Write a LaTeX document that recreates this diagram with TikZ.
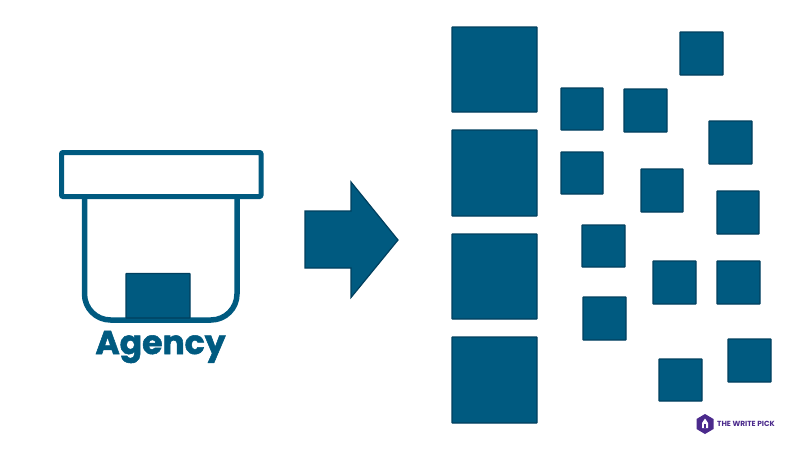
\documentclass[tikz,border=0pt]{standalone}
\usepackage{fontspec}
\setmainfont{Poppins}
\newfontfamily\agencyfont[FakeBold=1.6]{Poppins}
\definecolor{teal}{HTML}{005A80}
\definecolor{edgeblue}{HTML}{003F5E}
\definecolor{logopurple}{HTML}{4B2A8C}
\tikzset{
  block/.style={fill=teal,draw=edgeblue,line width=1.2pt,rounded corners=0.5pt},
  outline/.style={draw=teal,line width=5pt,line join=round},
}
\newcommand{\sq}[4]{\path[block] (#1,#2) rectangle (#3,#4);}
\begin{document}
\begin{tikzpicture}[x=1pt,y=-1pt]
\useasboundingbox (0,0) rectangle (800,450);
% agency body and lid
\draw[outline,line width=5.5pt,rounded corners=26pt] (84.5,196) -- (84.5,320) -- (237,320) -- (237,196);
\draw[outline,rounded corners=1pt] (61.5,152.5) rectangle (261,196.5);
\sq{126}{273.5}{190}{318}
\node[text=teal,font=\agencyfont\fontsize{33}{33}\selectfont\bfseries,inner sep=0pt,anchor=base] (agency) at (160.5,354) {Agency};
% arrow
\path[block,rounded corners=0pt] (305,211) -- (351,211) -- (351,182) -- (398,240) -- (351,297.5) -- (351,268) -- (305,268) -- cycle;
% large squares
\sq{452}{27}{537}{112}
\sq{452}{130}{537}{216}
\sq{452}{234}{537}{319}
\sq{452}{337}{537}{423}
% small squares
\sq{680}{32}{723}{75}
\sq{561}{88}{603}{130}
\sq{624}{89}{667}{132}
\sq{709}{121}{752}{164}
\sq{561}{152}{603}{194}
\sq{641}{169}{683}{212}
\sq{717}{191}{759}{234}
\sq{582}{225}{625}{267}
\sq{653}{261}{696}{304}
\sq{717}{261}{760}{304}
\sq{583}{297}{626}{340}
\sq{728}{339}{771}{382}
\sq{659}{359}{702}{401}
% logo
\fill[logopurple] (705,414) -- (713.5,419) -- (713.5,429) -- (705,434) -- (696.5,429) -- (696.5,419) -- cycle;
\fill[white] (705,418.5) -- (708,423) -- (708,428) -- (702,428) -- (702,423) -- cycle;
\fill[logopurple] (704,424) rectangle (706,428);
\node[text=logopurple,font=\fontsize{7.4}{7.4}\selectfont\bfseries,inner sep=0pt,anchor=west] (logotext) at (717,423.5) {THE WRITE PICK};
\end{tikzpicture}
\end{document}
